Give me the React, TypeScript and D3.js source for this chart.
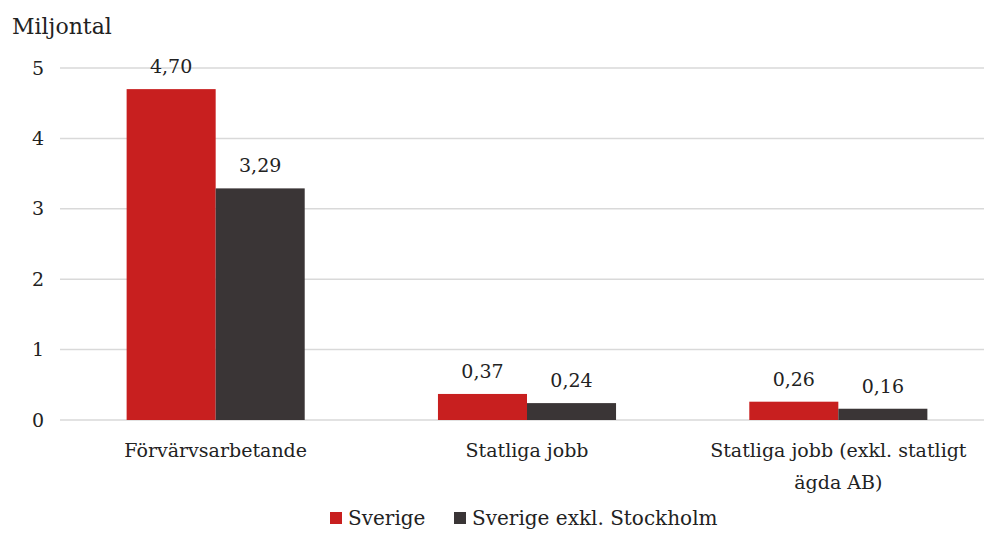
import React from "react";
import * as d3 from "d3";

const categories = ["Förvärvsarbetande", "Statliga jobb", "Statliga jobb (exkl. statligt ägda AB)"];
const categoryLines = [["Förvärvsarbetande"], ["Statliga jobb"], ["Statliga jobb (exkl. statligt", "ägda AB)"]];
const seriesNames = ["Sverige", "Sverige exkl. Stockholm"];
const sverige = [4.7, 0.37, 0.26];
const exklStockholm = [3.29, 0.24, 0.16];
const yTicks = [0, 1, 2, 3, 4, 5];

const colors = ["#c81f1f", "#3a3536"];
const font = "'DejaVu Serif', serif";

export default function App() {
  const width = 984;
  const height = 533;
  const x = d3.scaleBand().domain(categories).range([60, 994]).paddingInner(0.428).paddingOuter(0.214);
  const x1 = d3.scaleBand().domain(seriesNames).range([0, x.bandwidth()]);
  const y = d3.scaleLinear().domain([0, 5]).range([420, 68]);
  const series = [sverige, exklStockholm];
  const fmt = (v: number) => v.toFixed(2).replace(".", ",");

  return (
    <svg width={width} height={height} style={{ position: "absolute", left: 0, top: 0 }} fontFamily={font}>
      <text x={12} y={34} fontSize={22} fill="#222">Miljontal</text>
      {yTicks.map((t) => (
        <g key={t}>
          <line x1={60} x2={984} y1={y(t)} y2={y(t)} stroke="#d9d9d9" strokeWidth={1.5} />
          <text x={38} y={y(t)} dy="0.35em" textAnchor="middle" fontSize={19} fill="#222">{t}</text>
        </g>
      ))}
      {categories.map((c, i) => (
        <g key={c} transform={`translate(${x(c)},0)`}>
          {series.map((s, j) => (
            <g key={j}>
              <rect x={x1(seriesNames[j])} y={y(s[i])} width={x1.bandwidth()} height={y(0) - y(s[i])} fill={colors[j]} />
              <text x={(x1(seriesNames[j]) as number) + x1.bandwidth() / 2} y={y(s[i]) - 16} textAnchor="middle" fontSize={19} fill="#222">{fmt(s[i])}</text>
            </g>
          ))}
          {categoryLines[i].map((l, k) => (
            <text key={k} x={x.bandwidth() / 2} y={457 + k * 32} textAnchor="middle" fontSize={19} fill="#222">{l}</text>
          ))}
        </g>
      ))}
      <g transform="translate(330,512)">
        <rect x={0} y={0} width={12} height={12} fill={colors[0]} />
        <text x={18} y={13} fontSize={20} fill="#222">{seriesNames[0]}</text>
        <rect x={124} y={0} width={12} height={12} fill={colors[1]} />
        <text x={142} y={13} fontSize={20} fill="#222">{seriesNames[1]}</text>
      </g>
    </svg>
  );
}
